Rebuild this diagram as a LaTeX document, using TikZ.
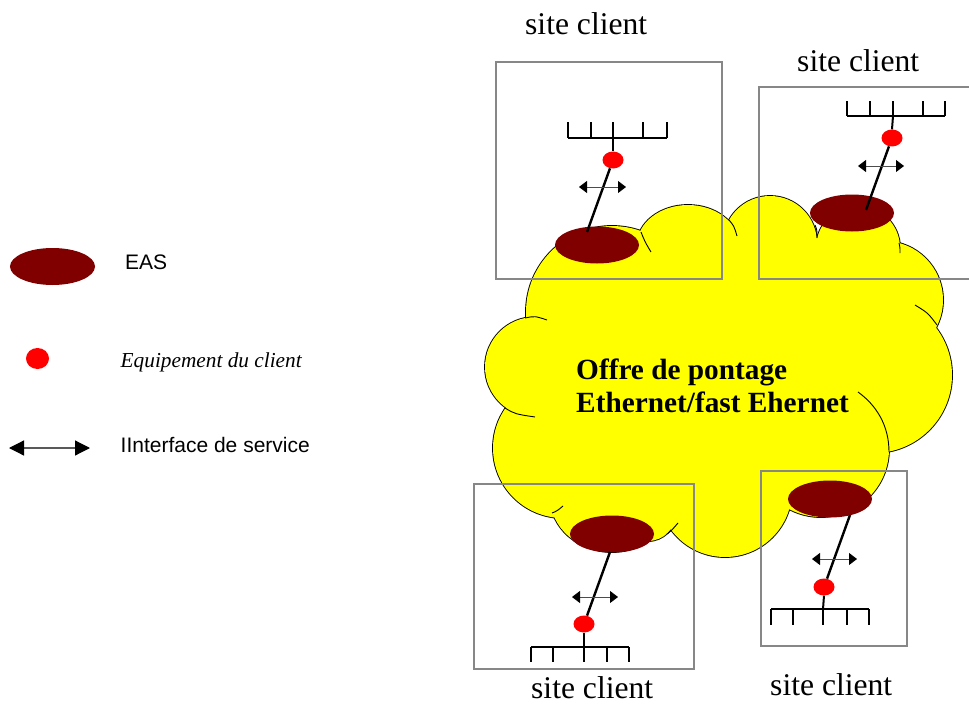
\documentclass[tikz,border=0pt]{standalone}
\usepackage{fontspec}
\setmainfont{Liberation Serif}
\newfontfamily\arialf{Liberation Sans}
\usetikzlibrary{shapes.geometric,arrows.meta}
\definecolor{easred}{HTML}{800000}
\definecolor{cloudyellow}{HTML}{FFFF00}
\definecolor{boxgray}{HTML}{878787}
\begin{document}
\begin{tikzpicture}[x=1pt,y=-1pt,
  eas/.style={ellipse, fill=easred, inner sep=0pt, minimum width=84pt, minimum height=37pt},
  cpe/.style={ellipse, fill=red, inner sep=0pt, minimum width=21pt, minimum height=17pt},
  sitebox/.style={draw=boxgray, line width=2.2pt},
  comb/.style={line width=2pt, draw=black},
  link/.style={line width=2.4pt, draw=black},
  svc/.style={line width=0.9pt, draw=black!70, {Triangle[length=8pt,width=12pt,color=black]}-{Triangle[length=8pt,width=12pt,color=black]}},
  legsvc/.style={line width=1.2pt, draw=black!65, {Triangle[length=15pt,width=15pt,color=black]}-{Triangle[length=15pt,width=15pt,color=black]}},
  lobe/.style={fill=cloudyellow, draw=black, line width=1.8pt},
  lobefill/.style={fill=cloudyellow},
  tail/.style={draw=black, line width=0.9pt},
  sitelabel/.style={font=\fontsize{31.6}{36}\selectfont, anchor=base west, inner sep=0pt},
  cloudtext/.style={font=\fontsize{29.3}{33}\selectfont\bfseries, anchor=base west, inner sep=0pt},
  legtext/.style={font=\arialf\fontsize{21}{25}\selectfont, anchor=base west, inner sep=0pt},
  legital/.style={font=\itshape\fontsize{21.3}{25}\selectfont, anchor=base west, inner sep=0pt},
]
\useasboundingbox[fill=white] (0,0) rectangle (969,706);

% ---------- cloud: outlined lobes ----------
\foreach \cx/\cy/\r in {612/312/86, 770/243/47, 858/248/42, 884/300/59, 874/375/78,
                   821/449/68, 725/490/67, 648/513/28, 563/448/70, 535/367/50}
  \draw[lobe] (\cx,\cy) circle[radius=\r];
\draw[lobe] (688,245) ellipse[x radius=51, y radius=40];
\draw[lobe] (612,497) ellipse[x radius=62, y radius=55];
% ---------- cloud: inner fill (hides inner outlines) ----------
\foreach \cx/\cy/\r in {612/312/86, 770/243/47, 858/248/42, 884/300/59, 874/375/78,
                   821/449/68, 725/490/67, 648/513/28, 563/448/70, 535/367/50}
  \fill[lobefill] (\cx,\cy) circle[radius=\r];
\fill[lobefill] (688,245) ellipse[x radius=51, y radius=40];
\fill[lobefill] (612,497) ellipse[x radius=62, y radius=55];
\fill[lobefill] (612,312)--(688,245)--(770,243)--(858,248)--(884,300)--(874,375)
  --(821,449)--(725,490)--(612,497)--(563,448)--(535,367)--cycle;
% ---------- cloud: cusps ----------
\draw[tail] (641,232) .. controls (645,242) .. (651,252);
\draw[tail] (729,220) .. controls (734,226) .. (737,236);
\draw[tail] (815,225) .. controls (817,230) .. (817,238);
\draw[tail] (899,243) .. controls (900,247) .. (900,253);
\draw[tail] (937,325) .. controls (928,313) .. (915,305);
\draw[tail] (889,452) .. controls (889,425) and (876,405) .. (858,392);
\draw[tail] (525,318) .. controls (535,316) .. (547,320);
\draw[tail] (505,408) .. controls (515,414) .. (535,417);
\draw[tail] (552,513) .. controls (557,511) .. (563,506);
\draw[tail] (667,534) .. controls (672,530) .. (678,523);

\node[cloudtext] (ct1) at (576,379) {Offre de pontage};
\node[cloudtext] (ct2) at (576,412) {Ethernet/fast Ehernet};

% ---------- site boxes ----------
\draw[sitebox] (496,62) rectangle (722,279);
\draw[sitebox] (759,87) rectangle (980,279);
\draw[sitebox] (474,484) rectangle (694,669);
\draw[sitebox] (761,471) rectangle (907,646);

\node[sitelabel] (sTL) at (525,35) {site client};
\node[sitelabel] (sTR) at (797,72) {site client};
\node[sitelabel] (sBL) at (531,698) {site client};
\node[sitelabel] (sBR) at (770,695) {site client};

% ---------- top-left site ----------
\node[eas] (easTL) at (597,245) {};
\coordinate (lTL) at (587,232);
\draw[comb] (568,138) -- (667,138);
\foreach \x in {568,591,613,643,667} \draw[comb] (\x,138) -- (\x,122);
\node[cpe] (cpeTL) at (613,160) {};
\draw[comb] (613,138) -- (cpeTL.north);
\draw[link] (cpeTL) -- (lTL);
\coordinate (aTL1) at (579,187); \coordinate (aTL2) at (626,187);
\draw[svc] (aTL1) -- (aTL2);

% ---------- top-right site ----------
\node[eas] (easTR) at (852,213) {};
\coordinate (lTR) at (866,210);
\draw[comb] (847,116) -- (945,116);
\foreach \x in {847,870,893,923,945} \draw[comb] (\x,116) -- (\x,101);
\node[cpe] (cpeTR) at (892,138) {};
\draw[comb] (893,116) -- (cpeTR.north);
\draw[link] (cpeTR) -- (lTR);
\coordinate (aTR1) at (858,166); \coordinate (aTR2) at (904,166);
\draw[svc] (aTR1) -- (aTR2);

% ---------- bottom-left site ----------
\node[eas] (easBL) at (612,534) {};
\coordinate (lBL) at (610,552);
\draw[comb] (531,647) -- (629,647);
\foreach \x in {531,553,584,607,629} \draw[comb] (\x,647) -- (\x,662);
\node[cpe] (cpeBL) at (584,624) {};
\draw[comb] (584,647) -- (cpeBL.south);
\draw[link] (cpeBL) -- (lBL);
\coordinate (aBL1) at (572,597); \coordinate (aBL2) at (618,597);
\draw[svc] (aBL1) -- (aBL2);

% ---------- bottom-right site ----------
\node[eas] (easBR) at (830,499) {};
\coordinate (lBR) at (850,515);
\draw[comb] (771,609) -- (869,609);
\foreach \x in {771,793,823,847,869} \draw[comb] (\x,609) -- (\x,625);
\node[cpe] (cpeBR) at (824,587) {};
\draw[comb] (823,609) -- (cpeBR.south);
\draw[link] (cpeBR) -- (lBR);
\coordinate (aBR1) at (812,559); \coordinate (aBR2) at (857,559);
\draw[svc] (aBR1) -- (aBR2);

% ---------- legend ----------
\node[eas, minimum width=85pt, minimum height=37pt] (legEAS) at (52.5,266.5) {};
\node[legtext] (tEAS) at (125,269.5) {EAS};
\node[cpe, minimum width=23pt, minimum height=21pt] (legCPE) at (37.5,358.5) {};
\node[legital] (tCPE) at (120.5,367) {Equipement du client};
\coordinate (la1) at (9,448); \coordinate (la2) at (90,448);
\draw[legsvc] (la1) -- (la2);
\node[legtext] (tSVC) at (120.5,452.5) {IInterface de service};
\end{tikzpicture}
\end{document}
